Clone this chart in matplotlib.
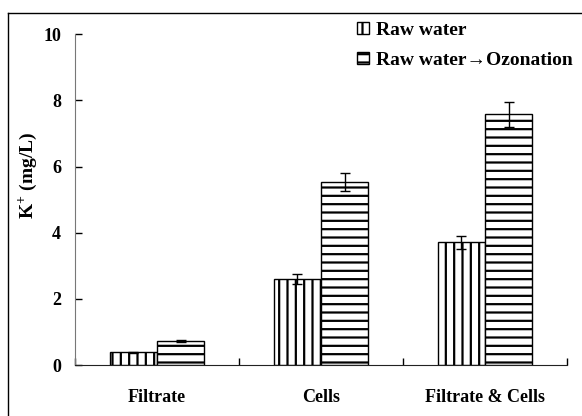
import matplotlib
matplotlib.use("Agg")
import matplotlib.pyplot as plt
import numpy as np
from matplotlib.lines import Line2D
from matplotlib.ticker import FixedLocator, NullFormatter, FixedFormatter

categories = ["Filtrate", "Cells", "Filtrate & Cells"]
series_names = ["Raw water", "Raw water\u2192Ozonation"]
raw_values = [0.38, 2.60, 3.71]
raw_errors = [0.01, 0.15, 0.20]
oz_values = [0.74, 5.53, 7.58]
oz_errors = [0.03, 0.28, 0.37]
y_ticks = [0, 2, 4, 6, 8, 10]

plt.rcParams['font.family'] = ['Liberation Serif', 'DejaVu Serif']
plt.rcParams['font.weight'] = 'bold'
plt.rcParams['mathtext.fontset'] = 'custom'
plt.rcParams['mathtext.rm'] = 'Liberation Serif:bold'
plt.rcParams['mathtext.bf'] = 'Liberation Serif:bold'
plt.rcParams['hatch.linewidth'] = 1.6
plt.rcParams['hatch.color'] = '#222222'

fig = plt.figure(figsize=(5.82, 4.16), dpi=100)
ax = fig.add_axes([75/582, 1-365/416, (567-75)/582, (365-34.3)/416])

x = np.arange(len(categories))
w = 0.287
b1 = ax.bar(x - w/2, raw_values, w, facecolor='white', edgecolor='black',
            linewidth=1, hatch='||', label=series_names[0], zorder=2)
b2 = ax.bar(x + w/2, oz_values, w, facecolor='white', edgecolor='black',
            linewidth=1, hatch='--', label=series_names[1], zorder=2)
ax.errorbar(x - w/2, raw_values, yerr=raw_errors, fmt='none', ecolor='black',
            elinewidth=1, capsize=3.6, capthick=1, zorder=3)
ax.errorbar(x + w/2, oz_values, yerr=oz_errors, fmt='none', ecolor='black',
            elinewidth=1, capsize=3.6, capthick=1, zorder=3)

ax.set_xlim(-0.5, 2.5)
ax.set_ylim(0, 10)
ax.set_yticks(y_ticks)
ax.set_yticklabels([str(t) for t in y_ticks], fontsize=13, fontweight='bold')

ax.xaxis.set_major_locator(FixedLocator([-0.5, 0.5, 1.5, 2.5]))
ax.xaxis.set_major_formatter(NullFormatter())
ax.xaxis.set_minor_locator(FixedLocator(list(x)))
ax.xaxis.set_minor_formatter(FixedFormatter(categories))
ax.tick_params(axis='x', which='minor', length=0, pad=17, labelsize=13)
ax.tick_params(axis='x', which='major', direction='in', length=5, width=1)
ax.tick_params(axis='y', direction='in', length=5, width=1, pad=10)
for lab in ax.get_xticklabels(minor=True):
    lab.set_fontweight('bold')

ax.spines['top'].set_visible(False)
ax.spines['right'].set_visible(False)
ax.spines['left'].set_color('#777777')
ax.spines['bottom'].set_color('#222222')

ax.set_ylabel("K$^{+}$ (mg/L)", fontsize=14, fontweight='bold')
ax.yaxis.set_label_coords(-0.071, 0.574)

leg = fig.legend(handles=[b1, b2], loc='upper left',
                 bbox_to_anchor=(357/582, 1-22/416), frameon=False,
                 fontsize=14, handlelength=0.6, handleheight=0.6,
                 handletextpad=0.4, labelspacing=0.65, borderpad=0,
                 borderaxespad=0)
for t in leg.get_texts():
    t.set_fontweight('bold')

# figure border (top and left edges)
fig.add_artist(Line2D([8/582, 1.0], [1-13/416, 1-13/416], color='black',
                      linewidth=1, transform=fig.transFigure))
fig.add_artist(Line2D([8/582, 8/582], [0, 1-13/416], color='black',
                      linewidth=1, transform=fig.transFigure))

fig.savefig("out.png", dpi=100)
